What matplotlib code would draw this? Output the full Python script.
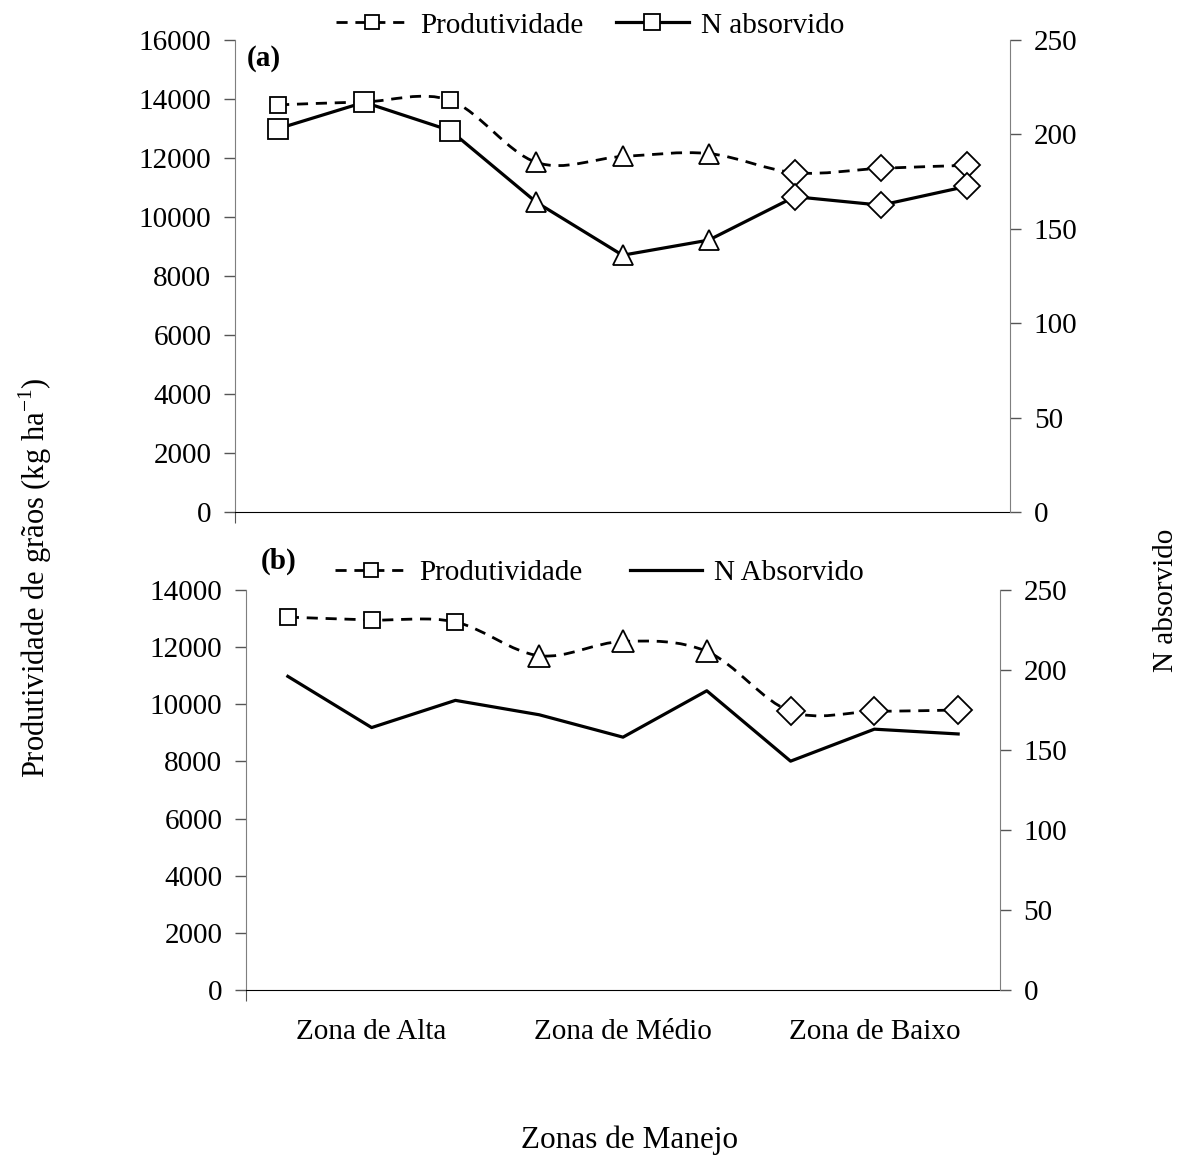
import numpy as np
import matplotlib
matplotlib.use("Agg")
import matplotlib.pyplot as plt
from matplotlib.path import Path
from matplotlib.patches import PathPatch
from matplotlib.lines import Line2D

plt.rcParams['font.family'] = ['Liberation Serif', 'DejaVu Serif']
plt.rcParams['font.size'] = 21
plt.rcParams['mathtext.fontset'] = 'custom'
plt.rcParams['mathtext.rm'] = 'Liberation Serif'

# data
pos = [1, 2, 3, 4, 5, 6, 7, 8, 9]
markers = ['s', 's', 's', '^', '^', '^', 'D', 'D', 'D']
zone_labels = ['Zona de Alta', 'Zona de Médio', 'Zona de Baixo']
zone_pos = [2, 5, 8]

prod_a = [13800, 13900, 13950, 11850, 12050, 12150, 11500, 11650, 11750]
nabs_a = [203, 217, 202, 164, 136, 144, 167, 162.5, 172.5]

prod_b = [13050, 12950, 12880, 11700, 12200, 11850, 9750, 9750, 9800]
nabs_b = [196, 164, 181, 172, 158, 187, 143, 163, 160]


def smooth_path(x, y):
    # excel style smoothed line: catmull-rom turned into bezier pieces
    x = np.asarray(x, float)
    y = np.asarray(y, float)
    verts = [(x[0], y[0])]
    codes = [Path.MOVETO]
    n = len(x)
    for i in range(n - 1):
        i0 = max(i - 1, 0)
        i3 = min(i + 2, n - 1)
        c1 = (x[i] + (x[i + 1] - x[i0]) / 6, y[i] + (y[i + 1] - y[i0]) / 6)
        c2 = (x[i + 1] - (x[i3] - x[i]) / 6, y[i + 1] - (y[i3] - y[i]) / 6)
        verts += [c1, c2, (x[i + 1], y[i + 1])]
        codes += [Path.CURVE4] * 3
    return Path(verts, codes)


dash = (0, (4, 2.8))
fig = plt.figure(figsize=(11.87, 11.55), dpi=100)

ax_a = fig.add_axes([0.198, 0.5567, 0.653, 0.4087])
ax_b = fig.add_axes([0.2072, 0.1429, 0.6353, 0.3463])


def setup(ax, ymax, step):
    ax.set_xlim(0.5, 9.5)
    ax.set_ylim(0, ymax)
    ax.set_yticks(np.arange(0, ymax + 1, step))
    ax.spines['top'].set_visible(False)
    ax.spines['right'].set_visible(False)
    ax.spines['left'].set_color('#7f7f7f')
    ax.spines['bottom'].set_color('black')
    ax.tick_params(axis='y', direction='out', length=8, width=1, color='#555555', pad=9)
    ax.patch.set_alpha(0)


setup(ax_a, 16000, 2000)
setup(ax_b, 14000, 2000)

ax_a.set_xticks([0.5])
ax_a.set_xticklabels([''])
ax_a.tick_params(axis='x', direction='out', length=8, color='#555555')

ax_b.set_xticks([0.5])
ax_b.set_xticklabels([''])
ax_b.tick_params(axis='x', direction='out', length=8, color='#555555')
ax_b.set_xticks(zone_pos, minor=True)
ax_b.set_xticklabels(zone_labels, minor=True)
ax_b.tick_params(axis='x', which='minor', length=0, pad=21)

tw_a = ax_a.twinx()
tw_b = ax_b.twinx()
for tw in (tw_a, tw_b):
    tw.set_ylim(0, 250)
    tw.set_yticks(np.arange(0, 251, 50))
    tw.spines['top'].set_visible(False)
    tw.spines['left'].set_visible(False)
    tw.spines['bottom'].set_visible(False)
    tw.spines['right'].set_color('#7f7f7f')
    tw.tick_params(axis='y', direction='out', length=8, width=1, color='#555555', pad=9)

# panel a
ax_a.add_patch(PathPatch(smooth_path(pos, prod_a), fill=False, ec='black',
                         lw=2.0, ls=dash, zorder=3))
tw_a.plot(pos, nabs_a, color='black', lw=2.3, zorder=3)
for xi, yi, m in zip(pos, prod_a, markers):
    ms = 12 if m == 's' else (15 if m == '^' else 13)
    ax_a.plot(xi, yi, marker=m, ms=ms, mfc='white', mec='black', mew=1.3, zorder=4)
for xi, yi, m in zip(pos, nabs_a, markers):
    ms = 15 if m == 's' else (15 if m == '^' else 13)
    tw_a.plot(xi, yi, marker=m, ms=ms, mfc='white', mec='black', mew=1.3, zorder=4)

# panel b
ax_b.add_patch(PathPatch(smooth_path(pos, prod_b), fill=False, ec='black',
                         lw=2.0, ls=dash, zorder=3))
tw_b.plot(pos, nabs_b, color='black', lw=2.3, zorder=3)
for xi, yi, m in zip(pos, prod_b, markers):
    ms = 12 if m == 's' else (16 if m == '^' else 14)
    ax_b.plot(xi, yi, marker=m, ms=ms, mfc='white', mec='black', mew=1.3, zorder=4)

ax_a.text(0.015, 0.96, '(a)', transform=ax_a.transAxes, fontweight='bold',
          ha='left', va='center', fontsize=21)
fig.text(0.235, 0.514, '(b)', fontweight='bold', ha='center', va='center', fontsize=21)

h_prod = Line2D([], [], color='black', lw=2.0, ls=dash, marker='s', ms=10,
                mfc='white', mec='black', mew=1.3)
h_nabs_a = Line2D([], [], color='black', lw=2.3, marker='s', ms=12,
                  mfc='white', mec='black', mew=1.3)
h_nabs_b = Line2D([], [], color='black', lw=2.3)

fig.legend([h_prod, h_nabs_a], ['Produtividade', 'N absorvido'], ncol=2,
           loc='center', bbox_to_anchor=(0.497, 0.978), frameon=False,
           handlelength=2.5, handletextpad=0.4, columnspacing=1.1,
           fontsize=21, borderpad=0)
fig.legend([h_prod, h_nabs_b], ['Produtividade', 'N Absorvido'], ncol=2,
           loc='center', bbox_to_anchor=(0.505, 0.504), frameon=False,
           handlelength=2.5, handletextpad=0.4, columnspacing=1.6,
           fontsize=21, borderpad=0)

fig.text(0.03, 0.5, 'Produtividade de grãos (kg ha$^{\\mathregular{-1}}$)', rotation=90,
         ha='center', va='center', fontsize=22)
fig.text(0.982, 0.48, 'N absorvido', rotation=90, ha='center', va='center', fontsize=21)
fig.text(0.53, 0.013, 'Zonas de Manejo', ha='center', va='center', fontsize=22.5)

fig.savefig('out.png', dpi=100)
